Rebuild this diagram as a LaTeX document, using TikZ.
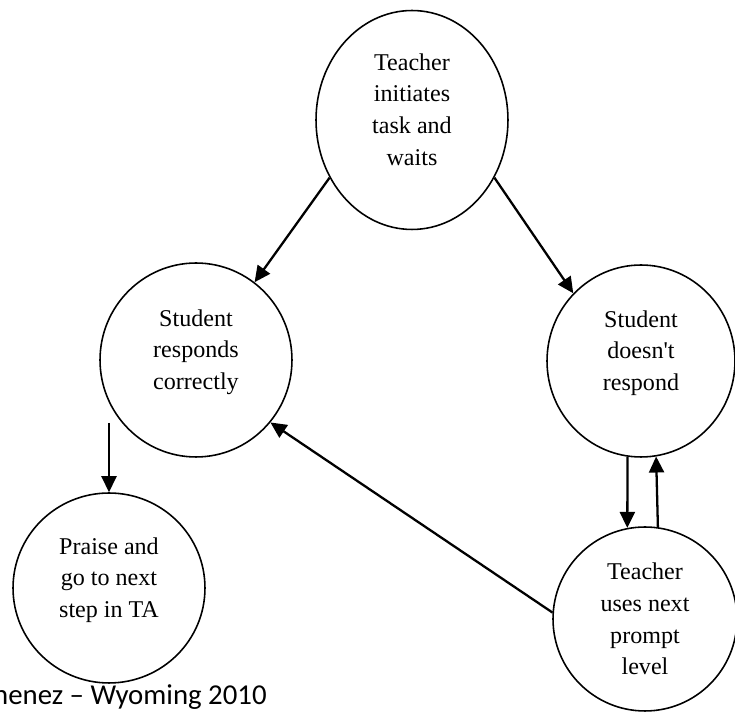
\documentclass[tikz,border=0pt]{standalone}
\usepackage{fontspec}
\setmainfont{Liberation Serif}
\newfontfamily\notefont{Carlito}
\usepackage{tikz}
\usetikzlibrary{positioning,arrows.meta,shapes.geometric,calc}

\begin{document}
\begin{tikzpicture}[
    x=0.02cm, y=-0.02cm,
    state/.style={draw, ellipse, line width=0.9pt, minimum width=3.84cm, minimum height=3.84cm, inner sep=0pt, align=center, font=\fontsize{13.7pt}{18.1pt}\selectfont},
    raised/.style={text depth=0.42cm},
    connector/.style={-{Triangle[length=0.32cm, width=0.3cm]}, line width=1.3pt},
    note/.style={font=\notefont\fontsize{16.4pt}{19pt}\selectfont, anchor=base east, inner sep=0pt}
]
\useasboundingbox (0,0) rectangle (735,712);
\clip (0,0) rectangle (735,712);

% States
\node[state, raised, minimum height=4.38cm] (wait) at (412,120) {Teacher\\initiates\\task and\\waits};
\node[state, raised, minimum height=3.88cm] (correct) at (196,360) {Student\\responds\\correctly};
\node[state, raised, minimum width=3.76cm] (silent) at (641,361) {Student\\doesn\textquotesingle t\\respond};
\node[state, raised, minimum height=3.8cm] (praise) at (109,588) {Praise and\\go to next\\step in TA};
\node[state, minimum width=3.68cm, minimum height=3.68cm] (prompt) at (645,619) {Teacher\\uses next\\prompt\\level};

% Free end above praise
\coordinate (gap) at (109,423);

% Connectors
\draw[connector] (wait.215) -- (correct.53);
\draw[connector] (wait.325) -- (silent.135);
\draw[connector] (gap) -- (praise.north);
\draw[connector] (silent.262) -- (prompt.101);
\draw[connector] (prompt.82.5) -- (silent.279.7);
\draw[connector] (prompt.176) -- (correct.-40);

% Source note (cut at the left edge)
\node[note] (source) at (267,705) {nenez \textendash{} Wyoming 2010};

\end{tikzpicture}
\end{document}
